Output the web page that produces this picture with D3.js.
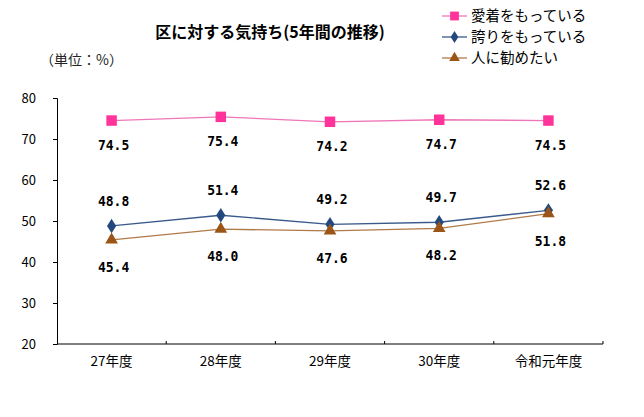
<!DOCTYPE html>
<html><head><meta charset="utf-8">
<script src="https://cdn.jsdelivr.net/npm/d3@7"></script>
<style>body{margin:0;background:#fff}svg{display:block}</style>
</head><body><svg id="c" width="644" height="417"></svg>
<script>
const categories = ["27年度","28年度","29年度","30年度","令和元年度"];
const seriesNames = ["愛着をもっている","誇りをもっている","人に勧めたい"];
const aichaku = [74.5, 75.4, 74.2, 74.7, 74.5];
const hokori = [48.8, 51.4, 49.2, 49.7, 52.6];
const susume = [45.4, 48.0, 47.6, 48.2, 51.8];
const yTicks = [20, 30, 40, 50, 60, 70, 80];
const titleText = "区に対する気持ち(5年間の推移)";
const unitText = "（単位：%）";

const svg = d3.select("#c");
const jp = "'Noto Sans CJK JP', sans-serif";
const M = {left:57, right:603, top:98, bottom:344};

const x = d3.scaleBand().domain(categories).range([M.left, M.right]);
const y = d3.scaleLinear().domain([20, 80]).range([M.bottom, M.top]);

const series = [
  {name: seriesNames[0], values: aichaku, line:"#EE77B8", fill:"#FF3399", shape:"square", dy: 24},
  {name: seriesNames[1], values: hokori, line:"#3A5A8C", fill:"#22487E", shape:"diamond", dy: -25},
  {name: seriesNames[2], values: susume, line:"#B07A48", fill:"#9B5517", shape:"triangle", dy: 27}
];

// title
svg.append("text").attr("x", 270).attr("y", 38).attr("text-anchor","middle")
  .style("font-family", jp).style("font-size","16px").style("font-weight","bold")
  .text(titleText);
svg.append("text").attr("x", 40).attr("y", 65)
  .style("font-family", jp).style("font-size","14px").attr("fill","#222")
  .text(unitText);

// axes
const yAxis = d3.axisLeft(y).tickValues(yTicks).tickSize(4).tickPadding(17);
const gy = svg.append("g").attr("transform", `translate(${M.left},0)`).call(yAxis);
gy.selectAll("text").style("font-family", jp).style("font-size","13px").attr("fill","#000");
gy.selectAll("line,path").attr("stroke","#000");

const xAxis = d3.axisBottom(x).tickSize(0).tickPadding(12);
const gx = svg.append("g").attr("transform", `translate(0,${M.bottom})`).call(xAxis);
gx.select(".domain").attr("d", `M${M.left},0H${M.right}`).attr("stroke","#000");
gx.selectAll("text").style("font-family", jp).style("font-size","13.5px").attr("fill","#000");
// category boundary ticks
const bounds = categories.map(c => x(c)).concat([x(categories[categories.length-1]) + x.bandwidth()]).slice(1);
svg.append("g").selectAll("line").data(bounds).join("line")
  .attr("x1", d => d).attr("x2", d => d).attr("y1", M.bottom).attr("y2", M.bottom - 3)
  .attr("stroke","#000");

const cx = c => x(c) + x.bandwidth()/2;
const sym = {square: d3.symbolSquare, diamond: d3.symbolDiamond, triangle: d3.symbolTriangle};
const symSize = {square: 110, diamond: 60, triangle: 70};

series.forEach(s => {
  const pts = categories.map((c,i) => [cx(c), y(s.values[i]), s.values[i]]);
  svg.append("path").datum(pts)
    .attr("d", d3.line().x(d=>d[0]).y(d=>d[1]))
    .attr("fill","none").attr("stroke", s.line).attr("stroke-width",1.3);
  svg.append("g").selectAll("path").data(pts).join("path")
    .attr("transform", d => `translate(${d[0]},${d[1]})` + (s.shape==="diamond" ? " scale(1.1,1)" : ""))
    .attr("d", d3.symbol().type(sym[s.shape]).size(symSize[s.shape]))
    .attr("fill", s.fill);
  svg.append("g").selectAll("text").data(pts).join("text")
    .attr("transform", d => `translate(${d[0] + 2},${d[1] + s.dy + 5}) scale(1,1.15)`)
    .attr("text-anchor","middle")
    .style("font-family","'DejaVu Sans Mono', monospace")
    .style("font-size","13px").style("font-weight","bold").attr("fill","#000")
    .text(d => d[2].toFixed(1));
});

// legend
const lg = svg.append("g");
series.forEach((s,i) => {
  const ly = 16 + i*21;
  lg.append("line").attr("x1",442).attr("x2",467).attr("y1",ly).attr("y2",ly)
    .attr("stroke", s.line).attr("stroke-width",1.3);
  lg.append("path").attr("transform", `translate(454.5,${ly})` + (s.shape==="diamond" ? " scale(1.1,1)" : ""))
    .attr("d", d3.symbol().type(sym[s.shape]).size(symSize[s.shape]*0.7)).attr("fill", s.fill);
  lg.append("text").attr("x", 471).attr("y", ly + 5)
    .style("font-family", jp).style("font-size","14.5px").attr("fill","#000")
    .text(s.name);
});
</script></body></html>
